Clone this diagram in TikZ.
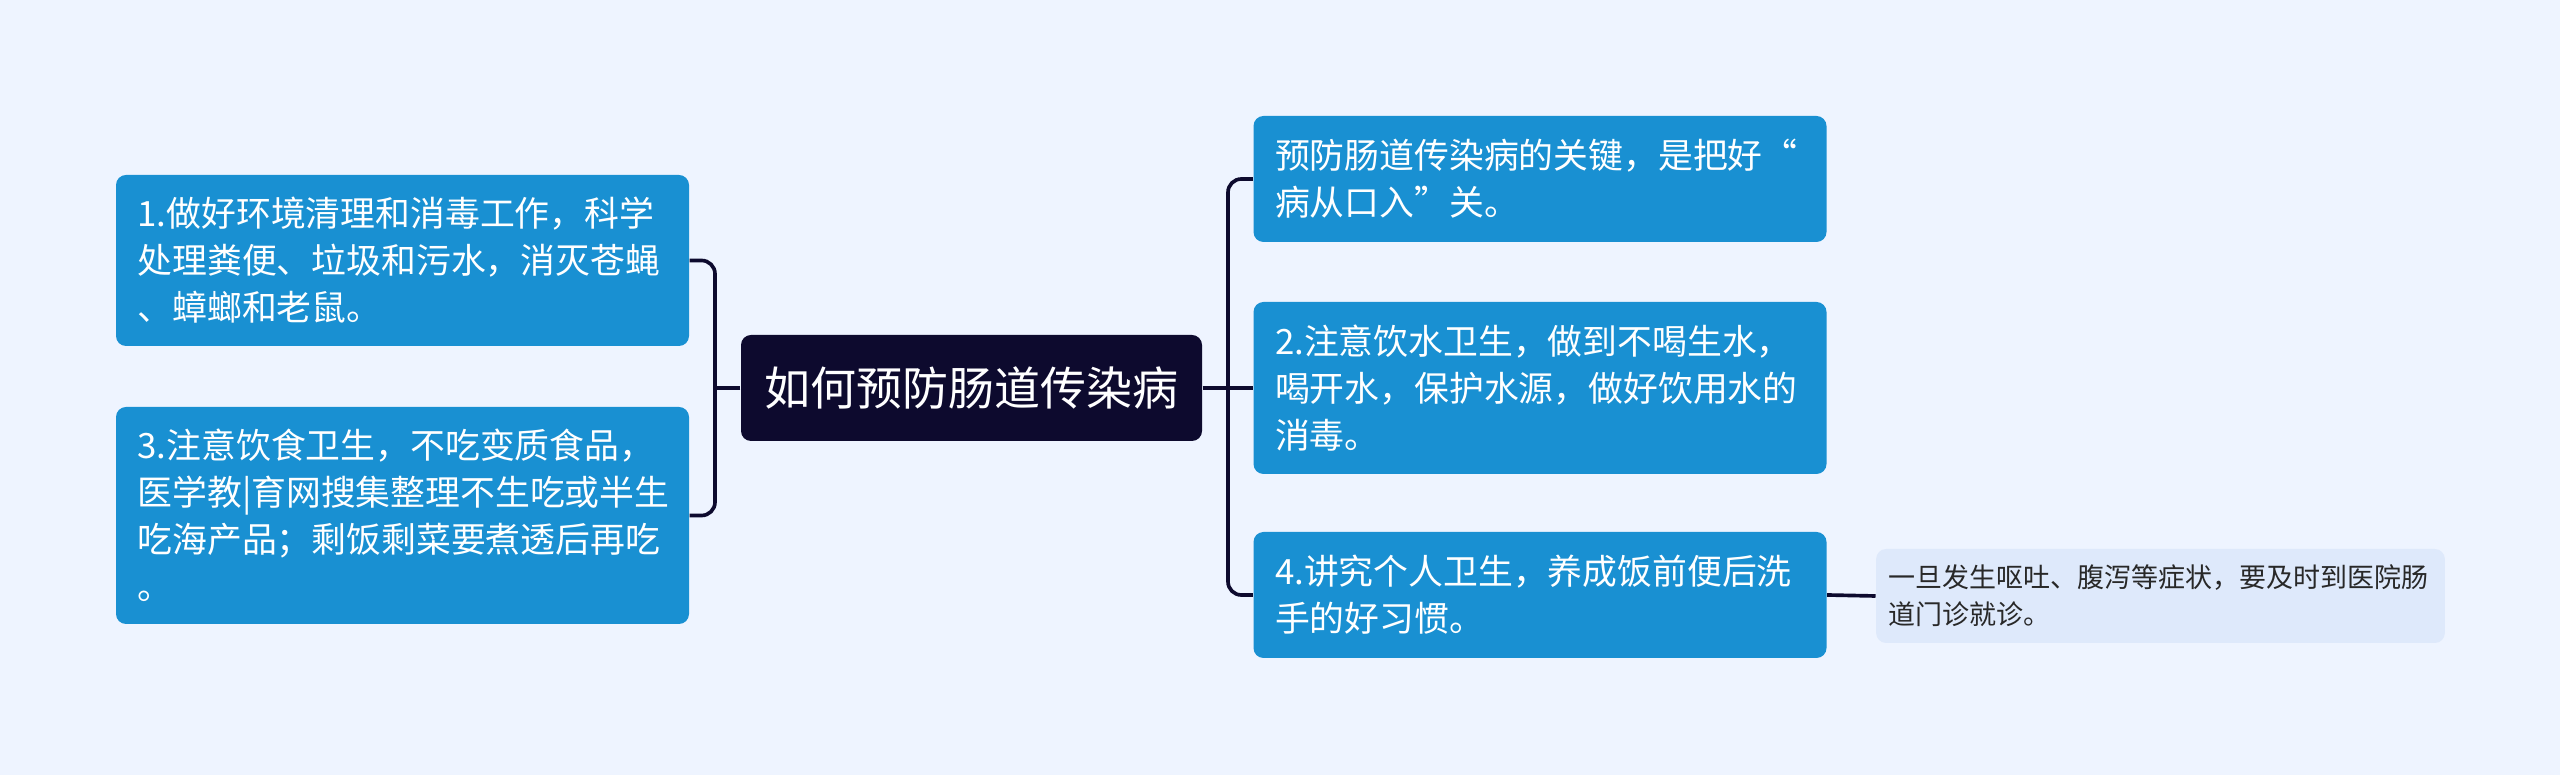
\documentclass[tikz,border=0pt]{standalone}
\usepackage{fontspec}
\setmainfont{Noto Sans CJK SC}
\usepackage{tikz}
\usetikzlibrary{shapes,arrows,positioning}
\definecolor{bgcolor}{RGB}{238,244,255}
\definecolor{leafblue}{RGB}{25,144,210}
\definecolor{rootnavy}{RGB}{13,10,46}
\definecolor{subfill}{RGB}{222,233,251}
\definecolor{subtext}{RGB}{40,40,40}

\begin{document}
\begin{tikzpicture}[x=0.3pt, y=-0.3pt]
	\tikzstyle{root_style}=[rectangle, rounded corners=3pt, fill=rootnavy, text=white, minimum width=138.3pt, minimum height=31.8pt, font={\fontsize{13.8}{16}\selectfont}]
	\tikzstyle{leaf_style}=[rectangle, rounded corners=3pt, fill=leafblue, text=white, text width=159pt, inner xsep=6.4pt, inner ysep=0pt, minimum width=171.9pt, align=left, font={\fontsize{10.45}{14.1}\selectfont}]
	\tikzstyle{sub_style}=[rectangle, rounded corners=3pt, fill=subfill, text=subtext, text width=163pt, inner xsep=3.8pt, inner ysep=0pt, minimum width=169.5pt, minimum height=28.2pt, align=left, font={\fontsize{8.1}{11.1}\selectfont}]
	\tikzstyle{line_style}=[draw=rootnavy, line width=1.1pt, rounded corners=4pt]

	% background
	\fill[bgcolor] (0,0) rectangle (2560,775);
	\useasboundingbox (0,0) rectangle (2560,775);

	% root
	\node at (971.5, 388) [root_style] (root) {如何预防肠道传染病};

	% left topics
	\node at (402.5, 260.5) [leaf_style, minimum height=51.3pt] (topic_1) {1.做好环境清理和消毒工作，科学\\处理粪便、垃圾和污水，消灭苍蝇\\、蟑螂和老鼠。};
	\node at (402.5, 515.5) [leaf_style, minimum height=65.1pt] (topic_3) {3.注意饮食卫生，不吃变质食品，\\医学教|育网搜集整理不生吃或半生\\吃海产品；剩饭剩菜要煮透后再吃\\。};

	% right topics
	\node at (1540, 179) [leaf_style, minimum height=37.8pt] (topic_0) {预防肠道传染病的关键，是把好“\\病从口入”关。};
	\node at (1540, 388) [leaf_style, minimum height=51.6pt] (topic_2) {2.注意饮水卫生，做到不喝生水，\\喝开水，保护水源，做好饮用水的\\消毒。};
	\node at (1540, 595) [leaf_style, minimum height=37.8pt] (topic_4) {4.讲究个人卫生，养成饭前便后洗\\手的好习惯。};

	% sub topic
	\node at (2160.5, 596) [sub_style] (sub_4) {一旦发生呕吐、腹泻等症状，要及时到医院肠\\道门诊就诊。};

	% branch points
	\coordinate (left_fork) at (715, 388);
	\coordinate (right_fork) at (1228, 388);

	% connect: root -> left topics
	\path[line_style] (root.west) -- (left_fork);
	\path[line_style] (topic_1.east) -| (left_fork) |- (topic_3.east);

	% connect: root -> right topics
	\path[line_style] (root.east) -- (right_fork);
	\path[line_style] (topic_0.west) -| (right_fork) |- (topic_4.west);
	\path[line_style] (right_fork) -- (topic_2.west);

	% connect: topic 4 -> sub topic
	\path[line_style] (topic_4.east) -- (sub_4.west);
\end{tikzpicture}
\end{document}
